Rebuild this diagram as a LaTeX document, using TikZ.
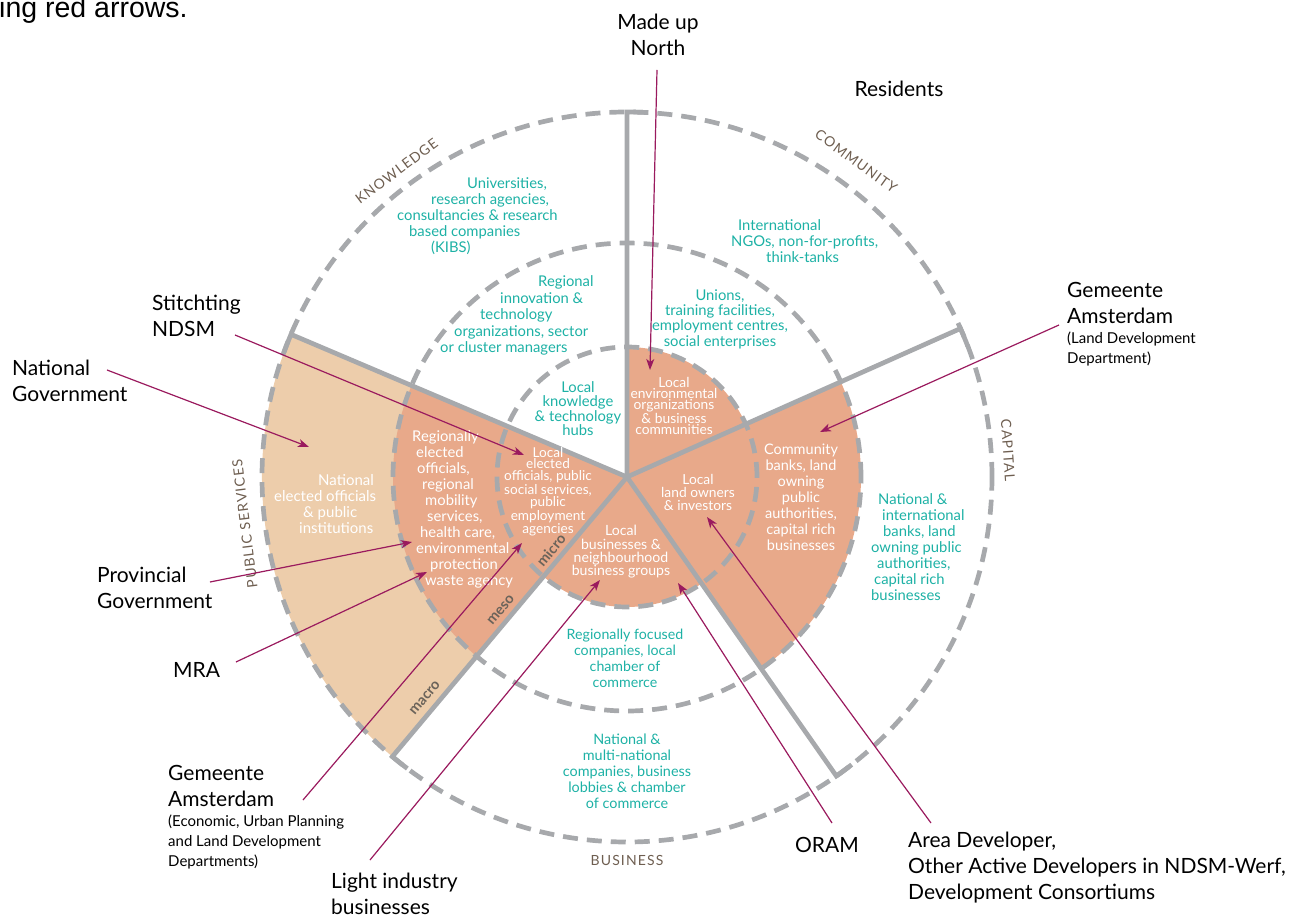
\documentclass[tikz,border=0pt]{standalone}
\usepackage{fontspec}
\setmainfont{Lato}
\newfontfamily\capsfont[LetterSpace=8]{Lato}
\newfontfamily\captionfont{Liberation Sans}
\usetikzlibrary{arrows.meta}
\usetikzlibrary{positioning}

\definecolor{sliceOrange}{HTML}{E8A98A}
\definecolor{sliceBeige}{HTML}{EDCDAB}
\definecolor{rimGray}{HTML}{A7A9AC}
\definecolor{tealTxt}{HTML}{1DB1A5}
\definecolor{arrowMag}{HTML}{9A1A5E}
\definecolor{sectTxt}{HTML}{6E5E50}
\definecolor{ringTxt}{HTML}{6B635A}

\begin{document}
\begin{tikzpicture}[x=1pt, y=1pt,
				rim/.style = {draw=rimGray, line width=4.7pt},
				dsh/.style = {rim, dash pattern=on 15pt off 9pt},
				lbl/.style = {font=\fontsize{21}{26}\selectfont, align=left, inner sep=0pt},
				sublbl/.style = {font=\fontsize{15}{20}\selectfont, align=left, inner sep=0pt},
				tealtext/.style = {text=tealTxt, font=\fontsize{14.8}{16}\selectfont, inner sep=0pt},
				whitetext/.style = {text=white, font=\fontsize{14.5}{16}\selectfont, inner sep=0pt},
				sect/.style = {text=sectTxt, font=\capsfont\fontsize{14}{14}\selectfont, inner sep=0pt},
				ringlbl/.style = {text=ringTxt, font=\bfseries\fontsize{14.5}{15}\selectfont, rotate=50, inner sep=0pt},
				arr/.style = {draw=arrowMag, line width=1.2pt, -{Stealth[length=11pt, width=8pt, inset=3pt]}},
				]
				\useasboundingbox (-627,-438) rectangle (689,477);
				\coordinate (c) at (0,0);
				% slices
				\fill[sliceBeige] (c) -- (157:365) arc[start angle=157, end angle=230, radius=365] -- cycle;
				\fill[sliceOrange] (c) -- (157:234) arc[start angle=157, end angle=230, radius=234] -- cycle;
				\fill[sliceOrange] (c) -- (-55:234) arc[start angle=-55, end angle=24, radius=234] -- cycle;
				\fill[sliceOrange] (c) -- (24:130) arc[start angle=24, end angle=90, radius=130] -- cycle;
				\fill[sliceOrange] (c) -- (-130:130) arc[start angle=-130, end angle=-55, radius=130] -- cycle;
				% rings
				\foreach \r in {130,234,365}
				\draw[dsh] (c) circle[radius=\r];
				% spokes
				\draw[rim] (c) -- (90:365) arc[start angle=90, end angle=87, radius=365];
				\draw[rim] (c) -- (24:365) arc[start angle=24, end angle=21, radius=365];
				\draw[rim] (c) -- (-55:365) arc[start angle=-55, end angle=-52, radius=365];
				\draw[rim] (c) -- (-130:365) arc[start angle=-130, end angle=-127, radius=365];
				\draw[rim] (c) -- (157:365) arc[start angle=157, end angle=160, radius=365];
				% sector names
				\node (knw) [sect, rotate=37] at (127:383) {KNOWLEDGE};
				\node (cmt) [sect, rotate=-36] at (54:390) {COMMUNITY};
				\node (cap) [sect, rotate=-86] at (4:382) {CAPITAL};
				\node (bus) [sect] at (-90:383) {BUSINESS};
				\node (pub) [sect, rotate=97] at (187:385) {PUBLIC SERVICES};
				\node (micro) [ringlbl] at (-76,-73) {micro};
				\node (meso) [ringlbl] at (-126,-133) {meso};
				\node (macro) [ringlbl] at (-202,-221) {macro};
				% knowledge
				\node (kibs) [tealtext, align=left, anchor=west] at (-230,261)
				{\hspace*{70pt}Universities,\\\hspace*{34pt}research agencies,\\consultancies \& research\\\hspace*{12pt}based companies\\\hspace*{34pt}(KIBS)};
				\node (rinno) [tealtext, align=left, anchor=west, font=\fontsize{14.8}{16.5}\selectfont] at (-187,161.5)
				{\hspace*{98pt}Regional\\\hspace*{60pt}innovation \&\\\hspace*{40pt}technology\\\hspace*{14pt}organizations, sector\\or cluster managers};
				\node (lhubs) [tealtext, align=center, font=\fontsize{14.8}{14.3}\selectfont] at (-49,68.5)
				{Local\\knowledge\\\& technology\\hubs};
				% community
				\node (ngos) [tealtext, align=left, anchor=west] at (104,236)
				{\hspace*{7pt}International\\NGOs, non-for-profits,\\\hspace*{35pt}think-tanks};
				\node (unions) [tealtext, align=center, font=\fontsize{14.8}{15.3}\selectfont] at (93,158)
				{Unions,\\training facilities,\\employment centres,\\social enterprises};
				\node (lenv) [whitetext, align=center, font=\fontsize{13.8}{11}\selectfont] at (47,71)
				{Local\\environmental\\organizations\\\& business\\communities};
				% capital
				\node (lland) [whitetext, align=center, font=\fontsize{13.8}{13}\selectfont] at (71,-15)
				{Local\\land owners\\\& investors};
				\node (cbanks) [whitetext, align=center] at (174,-20)
				{Community\\banks, land\\owning\\public\\authorities,\\capital rich\\businesses};
				\node (nbanks) [tealtext, align=left, anchor=west] at (244,-70)
				{\hspace*{7pt}National \&\\\hspace*{11pt}international\\\hspace*{12pt}banks, land\\owning public\\\hspace*{6pt}authorities,\\\hspace*{3pt}capital rich\\businesses};
				% business
				\node (lbus) [whitetext, align=center, font=\fontsize{14.1}{13.3}\selectfont] at (-6,-75)
				{Local\\businesses \&\\neighbourhood\\business groups};
				\node (rfoc) [tealtext, align=center, font=\fontsize{14.2}{16}\selectfont] at (-2,-181)
				{Regionally focused\\companies, local\\chamber of\\commerce};
				\node (nmulti) [tealtext, align=center, font=\fontsize{14.4}{16}\selectfont] at (0,-294)
				{National \&\\multi-national\\companies, business\\lobbies \& chamber\\of commerce};
				% public services
				\node (nelect) [whitetext, align=left, anchor=west, font=\fontsize{15}{16}\selectfont] at (-353,-27)
				{\hspace*{44pt}National\\elected officials\\\hspace*{29pt}\& public\\\hspace*{25pt}institutions};
				\node (relect) [whitetext, align=left, anchor=west, font=\fontsize{14.8}{16}\selectfont] at (-215,-32)
				{Regionally\\\hspace*{4pt}elected\\\hspace*{5pt}officials,\\\hspace*{10pt}regional\\\hspace*{13pt}mobility\\\hspace*{15pt}services,\\\hspace*{8pt}health care,\\\hspace*{4pt}environmental\\\hspace*{18pt}protection\\\hspace*{13pt}waste agency};
				\node (lelect) [whitetext, align=center, font=\fontsize{13.6}{11.8}\selectfont] at (-79,-14.5)
				{Local\\elected\\officials, public\\social services,\\public\\employment\\agencies};
				% actors
				\node (cut) [anchor=base west, inner sep=0pt, font=\captionfont\fontsize{28.5}{32}\selectfont] at (-628,459) {ing red arrows.};
				\node (mun) [lbl, align=center] at (31,442) {Made up\\North};
				\node (res) [lbl] at (272,388) {Residents};
				\node (ndsm) [lbl, anchor=west] at (-475,161) {Stitchting\\NDSM};
				\node (natgov) [lbl, anchor=west] at (-615,96) {National\\Government};
				\node (gemland) [lbl, anchor=west] at (440,174.5) {Gemeente\\Amsterdam};
				\node (gemland-sub) [sublbl, below right=8pt and 0pt of gemland.south west] {(Land Development\\Department)};
				\node (prov) [lbl, anchor=west] at (-530,-111) {Provincial\\Government};
				\node (mra) [lbl, anchor=west] at (-454,-193) {MRA};
				\node (gemecon) [lbl, anchor=west] at (-459,-309) {Gemeente\\Amsterdam};
				\node (gemecon-sub) [sublbl, below right=8pt and 0pt of gemecon.south west] {(Economic, Urban Planning\\and Land Development\\Departments)};
				\node (light) [lbl, anchor=west] at (-296,-417) {Light industry\\businesses};
				\node (oram) [lbl] at (200,-368) {ORAM};
				\node (area) [lbl, anchor=west] at (281,-391) {Area Developer,\\Other Active Developers in NDSM-Werf,\\Development Consortiums};
				% arrows
				\coordinate (mun-a) at (30,407);        \coordinate (mun-b) at (23,107);
				\coordinate (ndsm-a) at (-392,142);     \coordinate (ndsm-b) at (-103,22);
				\coordinate (natgov-a) at (-520,107);   \coordinate (natgov-b) at (-318,30);
				\coordinate (gemland-a) at (432,152);   \coordinate (gemland-b) at (193,45);
				\coordinate (prov-a) at (-417,-105);    \coordinate (prov-b) at (-215,-65);
				\coordinate (mra-a) at (-391,-185);     \coordinate (mra-b) at (-200,-95);
				\coordinate (gemecon-a) at (-324,-323); \coordinate (gemecon-b) at (-105,-66);
				\coordinate (light-a) at (-257,-383);   \coordinate (light-b) at (-27,-103);
				\coordinate (oram-a) at (205,-346);     \coordinate (oram-b) at (51,-106);
				\coordinate (area-a) at (304,-346);     \coordinate (area-b) at (80,-40);
				\foreach \a in {mun,ndsm,natgov,gemland,prov,mra,gemecon,light,oram,area}
				\draw[arr] (\a-a) -- (\a-b);
\end{tikzpicture}
\end{document}
